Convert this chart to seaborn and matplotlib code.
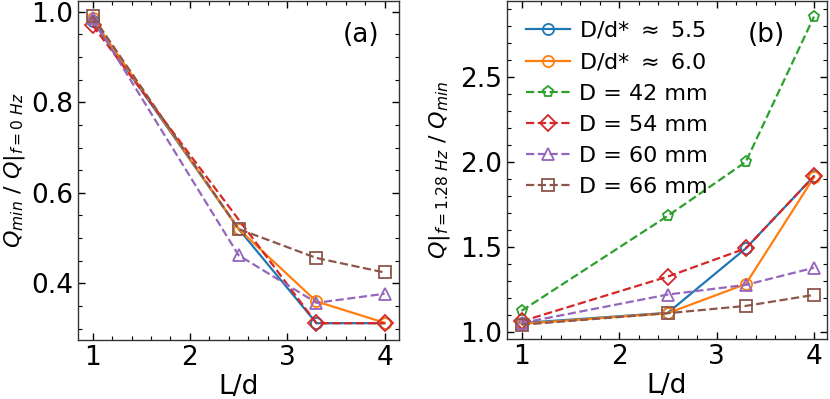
import numpy as np
import matplotlib
matplotlib.use("Agg")
import matplotlib.pyplot as plt
import seaborn as sns
from matplotlib.ticker import AutoMinorLocator

# L/d positions
ld = [1, 2.5, 3.3, 4]
ld_red_a = [1, 3.3, 4]

# panel (a): Q_min / Q|f=0Hz
a_dd55 = [0.98, 0.52, 0.312, 0.312]
a_dd60 = [0.985, 0.52, 0.36, 0.313]
a_d54 = [0.97, 0.312, 0.312]
a_d60 = [0.985, 0.462, 0.357, 0.377]
a_d66 = [0.99, 0.52, 0.456, 0.424]

# panel (b): Q|f=1.28Hz / Q_min
b_dd55 = [1.05, 1.11, 1.49, 1.916]
b_dd60 = [1.045, 1.108, 1.28, 1.91]
b_d42 = [1.122, 1.682, 2.0, 2.857]
b_d54 = [1.06, 1.324, 1.49, 1.916]
b_d60 = [1.05, 1.218, 1.275, 1.376]
b_d66 = [1.04, 1.108, 1.151, 1.216]

labels = [r"D/d* $\approx$ 5.5", r"D/d* $\approx$ 6.0", "D = 42 mm",
          "D = 54 mm", "D = 60 mm", "D = 66 mm"]

plt.rcParams["font.family"] = ["DejaVu Sans"]
pal = sns.color_palette("tab10")

fig = plt.figure(figsize=(8.3, 3.99), dpi=100)
ax1 = fig.add_axes([0.094, 0.148, 0.387, 0.850])
ax2 = fig.add_axes([0.611, 0.150, 0.385, 0.848])


def line(ax, x, y, c, m, ls):
    sns.lineplot(x=x, y=y, ax=ax, color=pal[c], marker=m, ls=ls,
                 ms=8, mfc="none", mec=pal[c], mew=1.3, lw=1.6,
                 legend=False)


# (a)
line(ax1, ld, a_dd55, 0, "o", "-")
line(ax1, ld, a_dd60, 1, "o", "-")
line(ax1, ld_red_a, a_d54, 3, "D", "--")
line(ax1, ld, a_d60, 4, "^", "--")
line(ax1, ld, a_d66, 5, "s", "--")

# (b)
line(ax2, ld, b_dd55, 0, "o", "-")
line(ax2, ld, b_dd60, 1, "o", "-")
line(ax2, ld, b_d42, 2, "p", "--")
line(ax2, ld, b_d54, 3, "D", "--")
line(ax2, ld, b_d60, 4, "^", "--")
line(ax2, ld, b_d66, 5, "s", "--")

ax1.set_xlim(0.85, 4.15)
ax1.set_ylim(0.275, 1.024)
ax1.set_yticks([0.4, 0.6, 0.8, 1.0])
ax2.set_xlim(0.852, 4.13)
ax2.set_ylim(0.955, 2.95)
ax2.set_yticks([1.0, 1.5, 2.0, 2.5])

for ax in (ax1, ax2):
    ax.set_xticks([1, 2, 3, 4])
    ax.xaxis.set_minor_locator(AutoMinorLocator())
    ax.yaxis.set_minor_locator(AutoMinorLocator())
    ax.tick_params(which="both", direction="in", top=True, right=True,
                   labelsize=19)
    ax.tick_params(which="major", length=5, width=1)
    ax.tick_params(which="minor", length=3, width=0.8)
    for s in ax.spines.values():
        s.set_linewidth(1)
        s.set_color("#333333")
    ax.set_xlabel("L/d", fontsize=19, labelpad=2)

ax1.set_ylabel(r"$Q_{min}$ / $Q|_{f=0\ Hz}$", fontsize=16, labelpad=3)
ax2.set_ylabel(r"$Q|_{f=1.28\ Hz}$ / $Q_{min}$", fontsize=16, labelpad=6)
ax1.text(0.88, 0.90, "(a)", transform=ax1.transAxes, fontsize=19,
         ha="center", va="center")
ax2.text(0.81, 0.90, "(b)", transform=ax2.transAxes, fontsize=19,
         ha="center", va="center")

ax2.legend(ax2.lines, labels, loc="upper left", frameon=False, fontsize=16,
           handlelength=2, labelspacing=0.5, borderaxespad=0.5,
           handletextpad=0.4, borderpad=0.35)

fig.savefig("out.png", dpi=100)
